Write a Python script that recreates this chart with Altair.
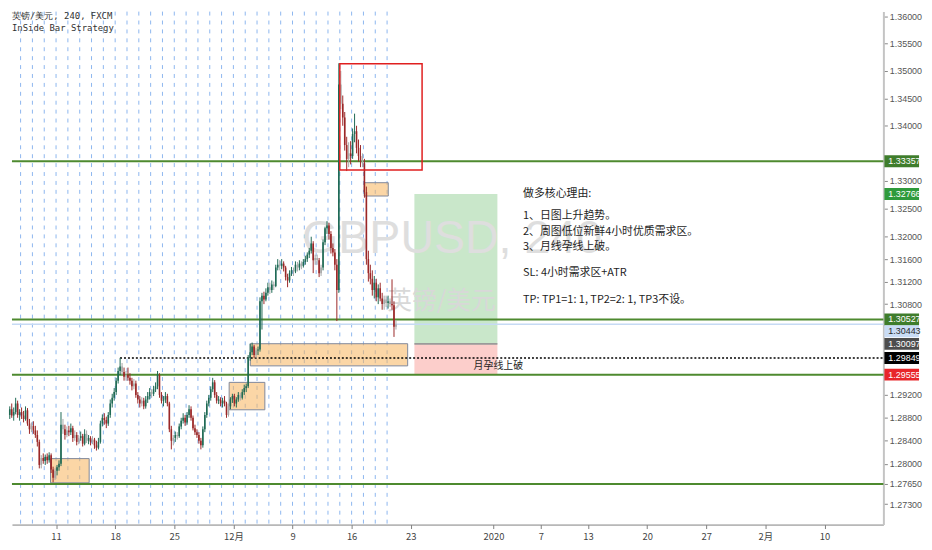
import altair as alt
import pandas as pd

# ---------------- data (4H bars, prices in 1/10000) ----------------
# first bar belongs to trading day -4 (Mon 11 Nov 2019 = day 0), 6 bars per day
OPEN = [
    12885,12895,12884,12890,12905,12885, 12890,12884,12878,12893,12870,12860,
    12866,12858,12850,12838,12798,12810, 12805,12812,12806,12815,12790,12776,
    12788,12794,12800,12868,12860,12850, 12858,12855,12862,12845,12850,12838,
    12845,12848,12835,12852,12840,12845, 12838,12842,12832,12828,12838,12870,
    12880,12876,12870,12885,12905,12915, 12925,12945,12962,12970,12960,12952,
    12955,12950,12945,12935,12940,12920, 12912,12905,12910,12900,12912,12918,
    12925,12922,12930,12935,12955,12920, 12910,12912,12918,12905,12860,12840,
    12845,12850,12848,12865,12875,12880, 12872,12885,12895,12880,12862,12855,
    12850,12840,12832,12860,12885,12905, 12915,12930,12942,12920,12910,12912,
    12905,12910,12905,12885,12900,12912, 12918,12905,12912,12920,12915,12925,
    12932,12935,12985,12995,13005,12990, 12998,13000,13085,13095,13088,13100,
    13110,13105,13115,13112,13145,13150, 13148,13152,13145,13128,13122,13135,
    13140,13138,13150,13145,13152,13148, 13155,13160,13168,13175,13188,13158,
    13162,13158,13135,13145,13190,13215, 13220,13205,13180,13172,13150,13105,
    13475,13440,13415,13365,13340,13350, 13345,13385,13390,13360,13345,13338,
    13332,13280,13160,13135,13125,13105, 13118,13092,13108,13090,13080,13088,
    13082,13085,13080,13078,13040,
]
HIGH = [
    12900,12905,12898,12915,12910,12895, 12898,12892,12900,12897,12878,12872,
    12874,12866,12858,12842,12815,12818, 12816,12818,12820,12818,12795,12792,
    12798,12806,12890,12878,12868,12865, 12866,12870,12866,12858,12855,12850,
    12856,12852,12860,12858,12850,12848, 12848,12845,12840,12845,12875,12886,
    12888,12882,12890,12912,12922,12932, 12950,12968,12985,12976,12968,12962,
    12968,12958,12950,12948,12945,12925, 12918,12916,12915,12918,12925,12932,
    12930,12936,12942,12962,12958,12925, 12918,12925,12922,12908,12866,12850,
    12856,12855,12870,12880,12888,12885, 12890,12902,12900,12884,12868,12860,
    12855,12845,12865,12890,12910,12920, 12935,12950,12946,12925,12918,12916,
    12915,12918,12908,12905,12916,12922, 12922,12916,12925,12924,12930,12938,
    12940,12990,13010,13012,13008,13002, 13005,13092,13100,13102,13108,13118,
    13118,13122,13120,13150,13160,13158, 13160,13156,13148,13134,13140,13146,
    13145,13156,13155,13158,13156,13160, 13166,13172,13180,13200,13192,13168,
    13168,13162,13150,13195,13218,13228, 13225,13210,13188,13178,13160,13514,
    13500,13455,13425,13380,13370,13372, 13395,13422,13400,13375,13365,13350,
    13340,13290,13175,13150,13140,13130, 13125,13115,13118,13100,13095,13095,
    13095,13090,13124,13085,13052,
]
LOW = [
    12878,12880,12875,12886,12880,12875, 12878,12872,12875,12866,12852,12855,
    12852,12845,12830,12792,12792,12800, 12798,12800,12802,12784,12768,12772,
    12780,12788,12796,12852,12842,12846, 12848,12850,12838,12840,12832,12834,
    12840,12830,12832,12836,12834,12832, 12834,12826,12823,12825,12835,12865,
    12868,12862,12866,12880,12898,12910, 12920,12940,12955,12955,12945,12945,
    12945,12938,12928,12930,12915,12905, 12898,12900,12895,12896,12906,12912,
    12915,12918,12925,12930,12915,12905, 12900,12906,12900,12855,12825,12832,
    12838,12842,12845,12860,12870,12866, 12868,12880,12875,12858,12850,12845,
    12835,12825,12828,12855,12880,12900, 12910,12925,12915,12905,12904,12900,
    12898,12900,12880,12882,12895,12906, 12900,12898,12908,12910,12912,12920,
    12925,12932,12980,12990,12985,12985, 12990,12996,13035,13080,13085,13095,
    13098,13100,13105,13110,13140,13140, 13142,13138,13122,13110,13118,13130,
    13130,13135,13138,13140,13142,13145, 13150,13155,13162,13170,13135,13150,
    13150,13128,13130,13140,13185,13205, 13195,13170,13165,13140,13050,13100,
    13430,13400,13355,13318,13325,13330, 13340,13370,13350,13335,13325,13325,
    13270,13150,13120,13115,13095,13090, 13085,13080,13085,13070,13070,13075,
    13072,13075,13070,13022,13035,
]
CLOSE = [
    12895,12884,12890,12905,12885,12890, 12884,12878,12893,12870,12860,12866,
    12858,12850,12838,12798,12810,12805, 12812,12806,12815,12790,12776,12788,
    12794,12800,12868,12860,12850,12858, 12855,12862,12845,12850,12838,12845,
    12848,12835,12852,12840,12845,12838, 12842,12832,12828,12838,12870,12880,
    12876,12870,12885,12905,12915,12925, 12945,12962,12970,12960,12952,12955,
    12950,12945,12935,12940,12920,12912, 12905,12910,12900,12912,12918,12925,
    12922,12930,12935,12955,12920,12910, 12912,12918,12905,12860,12840,12845,
    12850,12848,12865,12875,12880,12872, 12885,12895,12880,12862,12855,12850,
    12840,12832,12860,12885,12905,12915, 12930,12942,12920,12910,12912,12905,
    12910,12905,12885,12900,12912,12918, 12905,12912,12920,12915,12925,12932,
    12935,12985,12995,13005,12990,12998, 13000,13085,13095,13088,13100,13110,
    13105,13115,13112,13145,13150,13148, 13152,13145,13128,13122,13135,13140,
    13138,13150,13145,13152,13148,13155, 13160,13168,13175,13188,13158,13162,
    13158,13135,13145,13190,13215,13220, 13205,13180,13172,13150,13105,13475,
    13440,13415,13365,13340,13350,13345, 13385,13390,13360,13345,13338,13332,
    13280,13160,13135,13125,13105,13118, 13092,13108,13090,13080,13088,13082,
    13085,13080,13078,13040,13044,
]
FIRST_DAY = -4
BARS_PER_DAY = 6

# x axis: trading-day index, labels
X_DOMAIN = [-3.73, 69.98]
TICK_DAYS = [0, 5, 10, 15, 20, 25, 30, 37, 41, 45, 50, 55, 60, 65]
TICK_TEXT = ["11", "18", "25", "12月", "9", "16", "23", "2020", "7", "13", "20", "27", "2月", "10"]
DAY_LINES = list(range(-3, 29))

# y axis (log price scale); levels hidden under price tags are left out
Y_DOMAIN = [1.26950, 1.36089]
Y_TICKS = [1.36, 1.355, 1.35, 1.345, 1.34, 1.33, 1.325, 1.32, 1.316, 1.312,
           1.308, 1.292, 1.288, 1.284, 1.280, 1.2765, 1.273]

GREEN_LEVELS = [1.33357, 1.30527, 1.29555, 1.27650]
LAST_PRICE = 1.30443
DOTTED_LEVEL = 1.29849
DOTTED_START = 5.41

# zones (day from, day to, price top, price bottom)
BOX_X1 = [-0.47, 14.64, 16.43, 26.07]
BOX_X2 = [2.80, 17.66, 29.74, 28.10]
BOX_Y1 = [1.2809, 1.2942, 1.3010, 1.3297]
BOX_Y2 = [1.2767, 1.2894, 1.2971, 1.3273]
RED_BOX = [24.0, 30.96, 1.3513, 1.3320]
POS_X = [30.31, 37.33]
TP_LEVEL = 1.32766
ENTRY_LEVEL = 1.30097
SL_LEVEL = 1.29555

TAG_PRICES = [1.33357, 1.32766, 1.30527, 1.30443, 1.30097, 1.29849, 1.29555]
TAG_FILL = ["#3f7d2c", "#2f9a3c", "#3f7d2c", "#c9dcf5", "#4d4d4d", "#000000", "#e8262a"]
TAG_TEXT = ["#ffffff", "#ffffff", "#ffffff", "#2b2b2b", "#ffffff", "#ffffff", "#ffffff"]
TAG_PUSHED = [False, False, False, True, False, False, False]  # label pushed below its neighbour

NOTE_LINES = ["做多核心理由:", "1、日图上升趋势。", "2、周图低位新鲜4小时优质需求区。",
              "3、月线孕线上破。", "SL: 4小时需求区+ATR", "TP: TP1=1: 1, TP2=2: 1, TP3不设。"]
NOTE_PRICES = [1.3276, 1.3237, 1.3209, 1.3181, 1.3135, 1.3087]
NOTE_DAY = 39.5

W, H = 880, 518

# ---------------- build tables ----------------
rows = []
for i, (o, h, l, c) in enumerate(zip(OPEN, HIGH, LOW, CLOSE)):
    t = FIRST_DAY + i // BARS_PER_DAY + (i % BARS_PER_DAY + 0.5) / BARS_PER_DAY
    if i > 0 and h <= HIGH[i - 1] and l >= LOW[i - 1]:
        kind = "inside"
    elif c >= o:
        kind = "up"
    else:
        kind = "down"
    rows.append(dict(t=t, o=o / 1e4, h=h / 1e4, l=l / 1e4, c=c / 1e4, kind=kind))
candles = pd.DataFrame(rows)

xs = alt.Scale(domain=X_DOMAIN, nice=False, zero=False)
ys = alt.Scale(type="log", domain=Y_DOMAIN, nice=False)

label_expr = "[" + ",".join("'%s'" % s for s in TICK_TEXT) + "][indexof([" + \
    ",".join(str(d) for d in TICK_DAYS) + "], datum.value)]"

x_axis = alt.Axis(values=TICK_DAYS, labelExpr=label_expr, title=None, grid=False,
                  tickSize=4, labelFontSize=9.5, labelColor="#444", domainColor="#808080",
                  tickColor="#808080", labelPadding=3, labelFont="Noto Sans CJK SC",
                  labelFlush=False)
y_axis = alt.Axis(orient="right", values=Y_TICKS, format=".5f", title=None, grid=False,
                  tickSize=4, labelFontSize=9, labelColor="#555", domainColor="#c4c4c4",
                  domainWidth=2, tickColor="#888", labelOverlap=False, labelPadding=2,
                  labelFont="Liberation Sans")


def X(f):
    return alt.X(f, type="quantitative", scale=xs, axis=x_axis)


def Y(f):
    return alt.Y(f, type="quantitative", scale=ys, axis=y_axis)


# day separator lines
day_df = pd.DataFrame({"d": DAY_LINES})
day_lines = alt.Chart(day_df).mark_rule(color="#8db6ef", strokeDash=[4, 5], strokeWidth=1).encode(
    x=X("d")
)

# position tool zones
zones_df = pd.DataFrame({"x1": [POS_X[0], POS_X[0]], "x2": [POS_X[1], POS_X[1]],
                         "y1": [TP_LEVEL, ENTRY_LEVEL], "y2": [ENTRY_LEVEL, SL_LEVEL],
                         "fill": ["#4caf50", "#f44336"], "op": [0.30, 0.26]})
zones = alt.Chart(zones_df).mark_rect().encode(
    x=X("x1"), x2="x2", y=Y("y1"), y2="y2",
    color=alt.Color("fill:N", scale=None), opacity=alt.Opacity("op:Q", scale=None)
)
entry_line = alt.Chart(pd.DataFrame({"x1": [POS_X[0]], "x2": [POS_X[1]], "p": [ENTRY_LEVEL]})).mark_rule(
    color="#9a9a9a", strokeWidth=2).encode(x=X("x1"), x2="x2", y=Y("p"))

# watermark
wm = alt.Chart(pd.DataFrame({"t": [33.5], "p": [1.3195], "s": ["GBPUSD, 240"]})).mark_text(
    fontSize=47, color="#dedede", font="Liberation Sans",
    align="center", baseline="middle").encode(x=X("t"), y=Y("p"), text="s:N")
wm2 = alt.Chart(pd.DataFrame({"t": [32.6], "p": [1.3085], "s": ["英镑/美元"]})).mark_text(
    fontSize=25, color="#d8d8d8", font="Noto Sans CJK SC",
    align="center", baseline="middle").encode(x=X("t"), y=Y("p"), text="s:N")

# orange demand boxes
boxes_df = pd.DataFrame({"x1": BOX_X1, "x2": BOX_X2, "y1": BOX_Y1, "y2": BOX_Y2})
boxes = alt.Chart(boxes_df).mark_rect(fill="#f7b45c", fillOpacity=0.55, stroke="#7f889b",
                                      strokeWidth=1).encode(
    x=X("x1"), x2="x2", y=Y("y1"), y2="y2")

# horizontal levels
green_lines = alt.Chart(pd.DataFrame({"p": GREEN_LEVELS})).mark_rule(
    color="#4e8a2f", strokeWidth=2).encode(y=Y("p"))
last_line = alt.Chart(pd.DataFrame({"p": [LAST_PRICE]})).mark_rule(
    color="#c6daf4", strokeWidth=1.5).encode(y=Y("p"))
dotted = alt.Chart(pd.DataFrame({"x1": [DOTTED_START], "x2": [X_DOMAIN[1]], "p": [DOTTED_LEVEL]})).mark_rule(
    color="#000000", strokeWidth=1.4, strokeDash=[2, 2]).encode(x=X("x1"), x2="x2", y=Y("p"))

# candles
ccol = alt.Color("kind:N", scale=alt.Scale(domain=["up", "down", "inside"],
                                           range=["#1f6a55", "#9b2727", "#a7a7a7"]), legend=None)
wicks = alt.Chart(candles).mark_rule(strokeWidth=1).encode(x=X("t"), y=Y("l"), y2="h", color=ccol)
bodies = alt.Chart(candles).mark_rule(strokeWidth=1.6).encode(x=X("t"), y=Y("o"), y2="c", color=ccol)

# red box
red_box = alt.Chart(pd.DataFrame({"x1": [RED_BOX[0]], "x2": [RED_BOX[1]], "y1": [RED_BOX[2]],
                                  "y2": [RED_BOX[3]]})).mark_rect(
    fillOpacity=0, stroke="#e01f1f", strokeWidth=1.5).encode(
    x=X("x1"), x2="x2", y=Y("y1"), y2="y2")

# annotation text
notes = alt.Chart(pd.DataFrame({"t": [NOTE_DAY] * len(NOTE_LINES), "p": NOTE_PRICES, "s": NOTE_LINES})).mark_text(
    align="left", baseline="middle", fontSize=11, color="#1e1e1e", font="Noto Sans CJK SC").encode(
    x=X("t"), y=Y("p"), text="s:N")
break_note = alt.Chart(pd.DataFrame({"t": [NOTE_DAY], "p": [1.2971], "s": ["月孕线上破"]})).mark_text(
    align="right", baseline="middle", fontSize=10, color="#1e1e1e", font="Noto Sans CJK SC").encode(
    x=X("t"), y=Y("p"), text="s:N")

# right-side price tags (one label is pushed down, as the platform stacks close labels)
tags_df = pd.DataFrame({"p": TAG_PRICES, "fill": TAG_FILL, "tc": TAG_TEXT, "pushed": TAG_PUSHED,
                        "s": ["%.5f" % v for v in TAG_PRICES]})


def tag_layers(df, shift):
    r = alt.Chart(df).mark_rect(yOffset=-6 + shift, y2Offset=6 + shift).encode(
        x=alt.value(W + 1), x2=alt.value(W + 36), y=Y("p"), y2="p",
        color=alt.Color("fill:N", scale=None))
    t = alt.Chart(df).mark_text(align="left", baseline="middle", fontSize=9, dy=shift,
                                font="Liberation Sans").encode(
        x=alt.value(W + 5), y=Y("p"), text="s:N", color=alt.Color("tc:N", scale=None))
    return [r, t]


tag_marks = tag_layers(tags_df[~tags_df["pushed"]], 0) + tag_layers(tags_df[tags_df["pushed"]], 7)

# header texts
hdr = alt.Chart(pd.DataFrame({"s": ["英镑/美元, 240, FXCM", "InSide Bar Strategy"], "yy": [4, 17]})).mark_text(
    align="left", baseline="middle", fontSize=9, color="#333", font="DejaVu Sans Mono").encode(
    x=alt.value(0), y=alt.Y("yy:Q", scale=None), text="s:N")

chart = alt.layer(
    zones, day_lines, wm, wm2, boxes, last_line, green_lines, dotted, entry_line,
    wicks, bodies, red_box, notes, break_note, *tag_marks, hdr
).properties(width=W, height=H, background="white",
             padding={"left": 0, "top": 0, "right": 2, "bottom": 2}
).configure_view(stroke=None)

chart.save("out.html", embed_options={"renderer": "svg", "actions": False})
